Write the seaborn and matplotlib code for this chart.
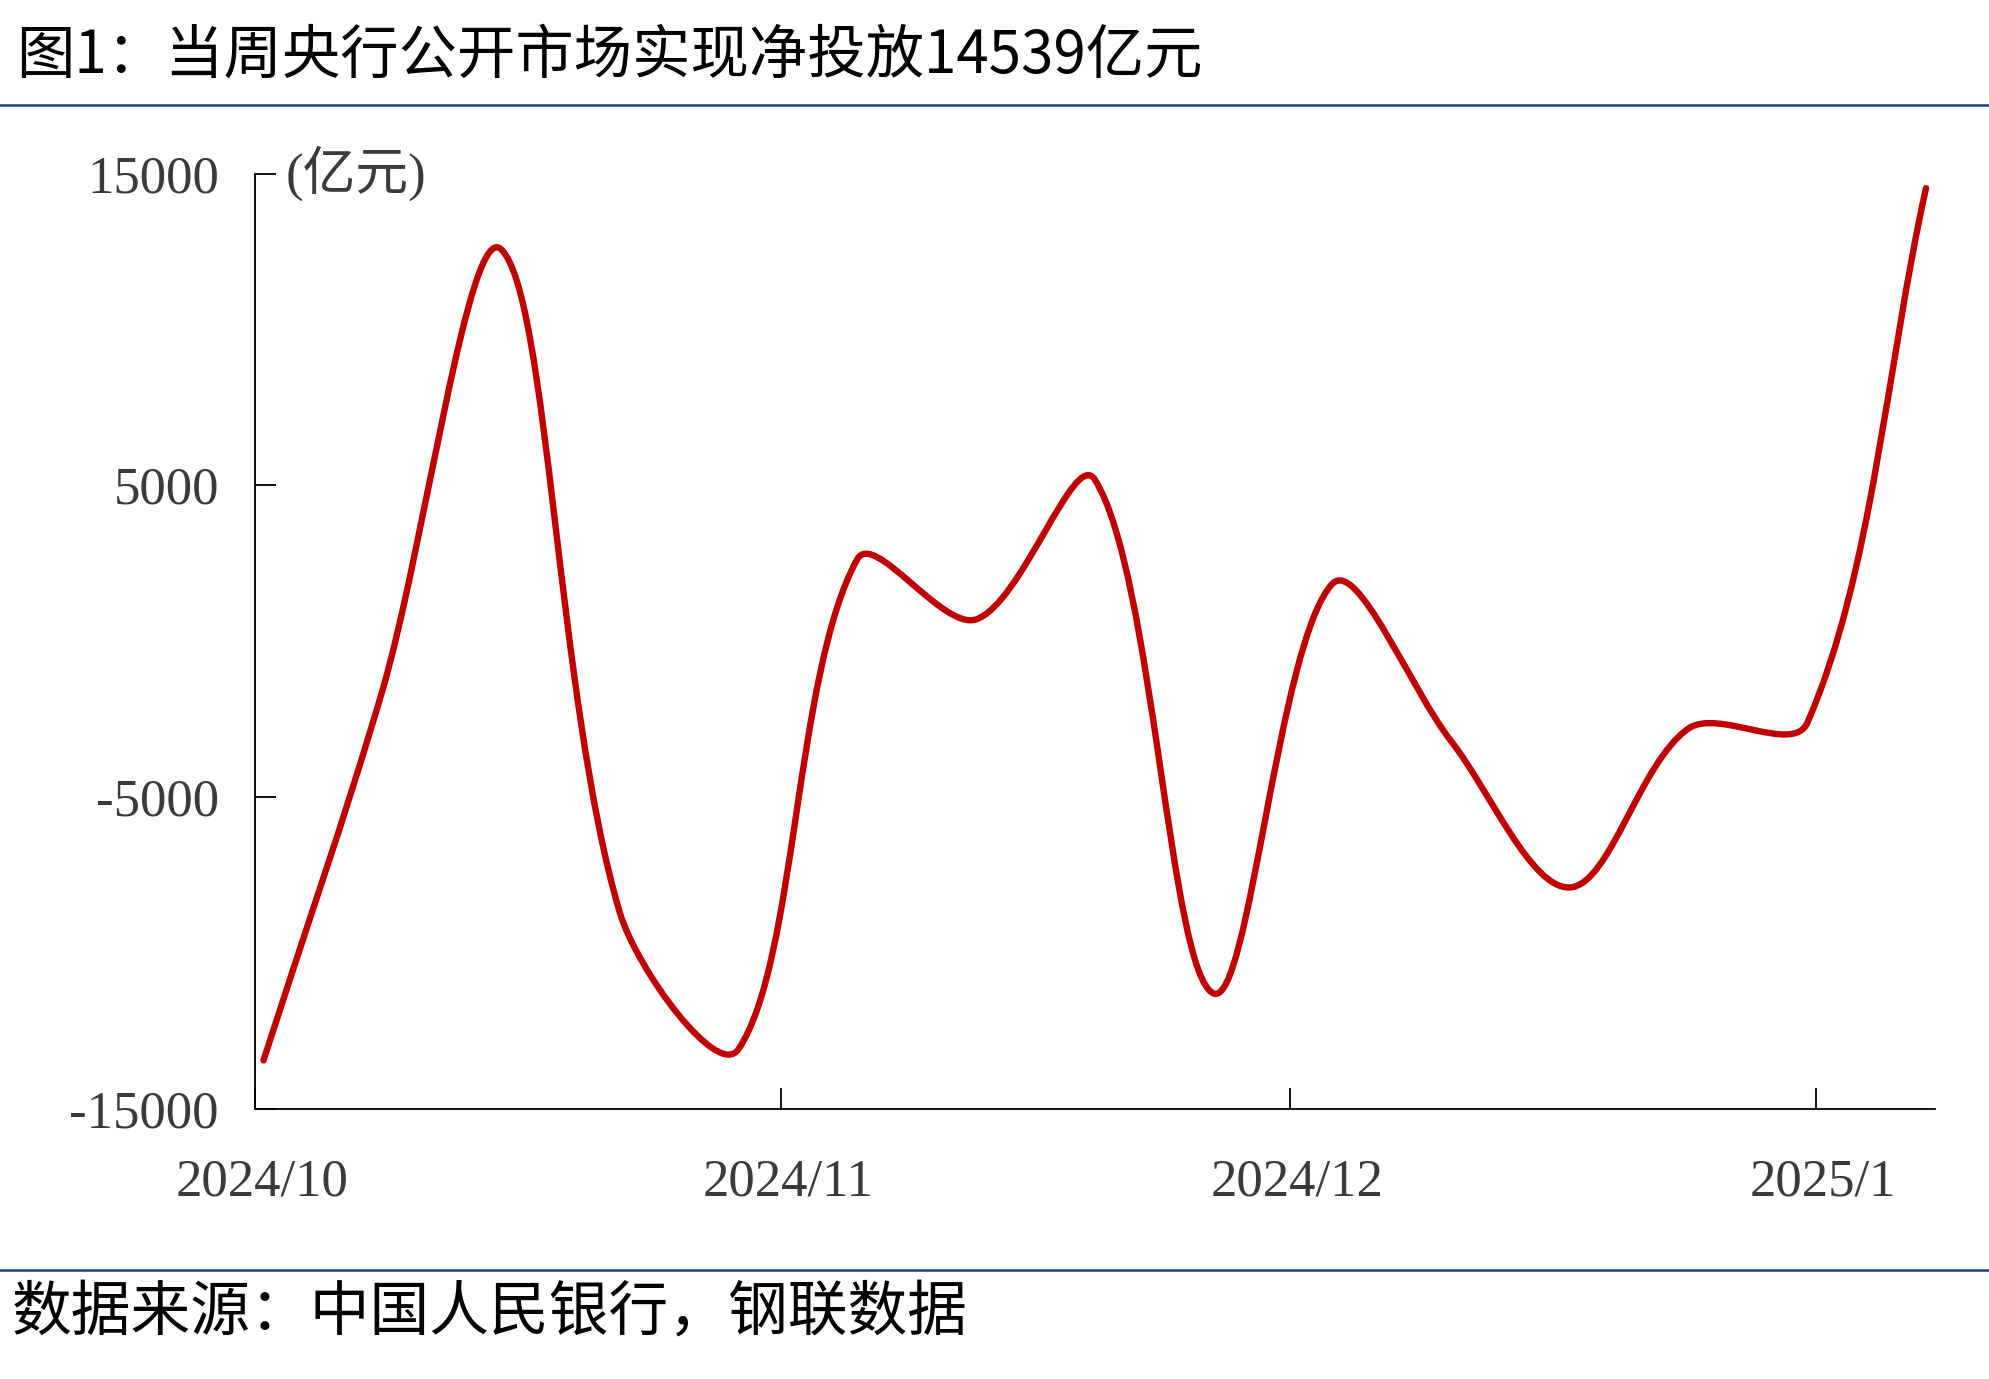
import numpy as np
import pandas as pd
import matplotlib
matplotlib.use("Agg")
import matplotlib.pyplot as plt
import matplotlib.dates as mdates
from matplotlib.path import Path
from matplotlib.patches import PathPatch
from matplotlib.lines import Line2D
from matplotlib.transforms import ScaledTranslation
import seaborn as sns

# weekly net injection (亿元)
dates = pd.date_range("2024-10-01", periods=15, freq="7D")
net_injection = [-13450, -1600, 12580, -8700, -13090, 2630, 700, 5190,
                 -11300, 1840, -3200, -7900, -2800, -2620, 14539]
month_ticks = ["2024-10-01", "2024-11-01", "2024-12-01", "2025-01-01"]
month_labels = ["2024/10", "2024/11", "2024/12", "2025/1"]
y_ticks = [-15000, -5000, 5000, 15000]

title = "图1：当周央行公开市场实现净投放14539亿元"
source = "数据来源：中国人民银行，钢联数据"

sns.set_style("ticks")
plt.rcParams["font.family"] = ["Liberation Serif", "Noto Sans CJK SC", "DejaVu Sans"]
cjk = ["Noto Sans CJK SC", "DejaVu Sans"]

fig = plt.figure(figsize=(19.89, 13.79), dpi=100)
ax = fig.add_axes([0.1282, 0.196, 0.9726 - 0.1282, 0.874 - 0.196])
ax.set_xlim(mdates.date2num(pd.Timestamp("2024-10-01")),
            mdates.date2num(pd.Timestamp("2025-01-08")))
ax.set_ylim(-15000, 15000)

# smoothed line through the weekly points: cubic Bezier segments, tangent
# handles split by the on-screen length of the neighbouring segments
xs = mdates.date2num(dates) + 0.5
ys = np.array(net_injection, dtype=float)
pts = np.column_stack([xs, ys])
scr = ax.transData.transform(pts)
seg = np.hypot(*np.diff(scr, axis=0).T)
n = len(pts)
h_in = np.zeros_like(pts)
h_out = np.zeros_like(pts)
for i in range(n):
    prv = pts[max(i - 1, 0)]
    nxt = pts[min(i + 1, n - 1)]
    vec = nxt - prv
    d_prev = seg[i - 1] if i > 0 else 0.0
    d_next = seg[i] if i < n - 1 else 0.0
    tot = d_prev + d_next
    h_in[i] = vec * d_prev / tot / 3.0
    h_out[i] = vec * d_next / tot / 3.0
verts = [tuple(pts[0])]
codes = [Path.MOVETO]
for i in range(n - 1):
    verts += [tuple(pts[i] + h_out[i]), tuple(pts[i + 1] - h_in[i + 1]),
              tuple(pts[i + 1])]
    codes += [Path.CURVE4] * 3
ax.add_patch(PathPatch(Path(verts, codes), facecolor="none",
                       edgecolor="#C00000", lw=4.6, capstyle="round",
                       joinstyle="round"))

ax.set_xticks(mdates.date2num(pd.to_datetime(month_ticks)))
ax.set_xticklabels(month_labels)
ax.set_yticks(y_ticks)
ax.set_yticklabels([str(v) for v in y_ticks])

for side in ["top", "right"]:
    ax.spines[side].set_visible(False)
for side in ["left", "bottom"]:
    ax.spines[side].set_color("black")
    ax.spines[side].set_linewidth(1.3)

ax.tick_params(axis="both", direction="in", length=15, width=1.3,
               left=True, bottom=True, colors="black",
               labelcolor="#3a3a3a", labelsize=38)
ax.tick_params(axis="x", pad=36)
ax.tick_params(axis="y", pad=26)
shift = ScaledTranslation(0.075, 0, fig.dpi_scale_trans)
for lab in ax.get_xticklabels():
    lab.set_transform(lab.get_transform() + shift)

ax.text(0.018, 1.0, "(亿元)", transform=ax.transAxes, ha="left", va="center",
        fontsize=38, color="#3a3a3a",
        family=["Liberation Serif", "Noto Sans CJK SC"])

fig.text(0.008, 0.959, title, ha="left", va="center", fontsize=42,
         color="black", family=cjk)
fig.text(0.006, 0.048, source, ha="left", va="center", fontsize=43,
         color="black", family=cjk)

for yy in [0.9236, 0.079]:
    fig.add_artist(Line2D([0, 1], [yy, yy], color="#1c3d7e", lw=1.8,
                          transform=fig.transFigure))

fig.savefig("out.png", dpi=100)
